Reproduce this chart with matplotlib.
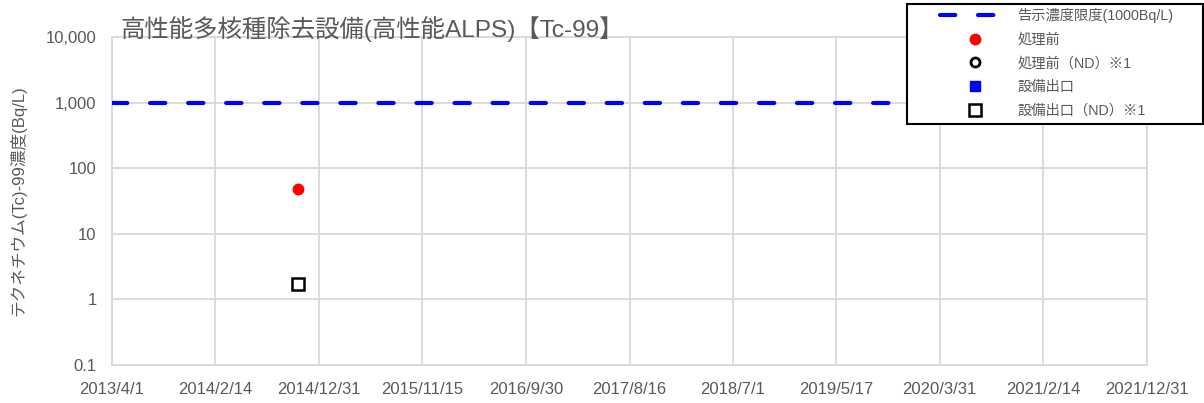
import matplotlib.pyplot as plt
import matplotlib.dates as mdates
from matplotlib.ticker import FixedLocator, FuncFormatter, NullLocator
from matplotlib.patches import Rectangle
from datetime import datetime

plt.rcParams['font.family'] = ['Liberation Sans', 'Noto Sans CJK JP', 'DejaVu Sans']
plt.rcParams['lines.scale_dashes'] = False

# データ
title = '高性能多核種除去設備(高性能ALPS)【Tc-99】'
ylabel = 'テクネチウム(Tc)-99濃度(Bq/L)'
tick_dates = ['2013/4/1', '2014/2/14', '2014/12/31', '2015/11/15', '2016/9/30',
              '2017/8/16', '2018/7/1', '2019/5/17', '2020/3/31', '2021/2/14', '2021/12/31']
limit_dates = ['2013/4/1', '2021/12/31']
limit_values = [1000, 1000]
before_dates = ['2014/10/27']
before_values = [48]
before_nd_dates = []
before_nd_values = []
outlet_dates = []
outlet_values = []
outlet_nd_dates = ['2014/10/27']
outlet_nd_values = [1.7]
y_ticks = [0.1, 1, 10, 100, 1000, 10000]


def to_dt(lst):
    return [datetime.strptime(s, '%Y/%m/%d') for s in lst]


txt = '#595959'
W, H = 1204, 403
fig = plt.figure(figsize=(W / 100, H / 100), dpi=100)
ax = fig.add_axes([112 / W, 1 - 365 / H, 1035 / W, 328 / H])

l1, = ax.plot(to_dt(limit_dates), limit_values, color='#0000ff', lw=3,
              dashes=(11, 16.4), dash_capstyle='round', label='告示濃度限度(1000Bq/L)', zorder=3)
l2, = ax.plot(to_dt(before_dates), before_values, 'o', color='#ff0000', ms=7.5,
              label='処理前', zorder=4)
l3, = ax.plot(to_dt(before_nd_dates), before_nd_values, 'o', mfc='white', mec='black',
              mew=2, ms=6.5, label='処理前（ND）※1', zorder=4)
l4, = ax.plot(to_dt(outlet_dates), outlet_values, 's', color='#0000ff', ms=6.5,
              label='設備出口', zorder=4)
l5, = ax.plot(to_dt(outlet_nd_dates), outlet_nd_values, 's', mfc='white', mec='black',
              mew=1.8, ms=8, label='設備出口（ND）※1', zorder=4)

ax.set_yscale('log')
ax.set_ylim(0.1, 10000)
ax.yaxis.set_major_locator(FixedLocator(y_ticks))
ax.yaxis.set_minor_locator(NullLocator())
ax.yaxis.set_major_formatter(FuncFormatter(lambda v, p: '0.1' if v < 1 else f'{int(v):,}'))

xt = mdates.date2num(to_dt(tick_dates))
ax.set_xlim(xt[0], xt[-1])
ax.xaxis.set_major_locator(FixedLocator(xt))
ax.set_xticklabels(tick_dates)

ax.grid(True, color='#d9d9d9', lw=1.3)
for s in ax.spines.values():
    s.set_color('#d9d9d9')
    s.set_linewidth(1.3)
ax.tick_params(length=0, labelsize=12, colors=txt)
ax.tick_params(axis='x', pad=12)
ax.tick_params(axis='y', pad=11)
ax.set_ylabel(ylabel, fontsize=12, color=txt)
ax.yaxis.set_label_coords(-0.083, 0.5)

fig.text(120 / W, 1 - 29 / H, title, fontsize=17.6, color=txt, va='center', ha='left')

# 凡例（枠は別に描く）
fig.patches.append(Rectangle((907 / W, 1 - 124 / H), 296 / W, 120 / H, transform=fig.transFigure,
                             fill=True, facecolor='white', edgecolor='black', lw=1.5, zorder=5))
leg = fig.legend(handles=[l1, l2, l3, l4, l5], loc='upper left',
                 bbox_to_anchor=(940 / W, 1 - 8 / H), fontsize=10.3, frameon=False,
                 handlelength=4.9, labelspacing=0.68, handletextpad=0.5, borderpad=0,
                 borderaxespad=0)
leg.set_zorder(6)
for t in leg.get_texts():
    t.set_color(txt)

fig.savefig('out.png', dpi=100)
